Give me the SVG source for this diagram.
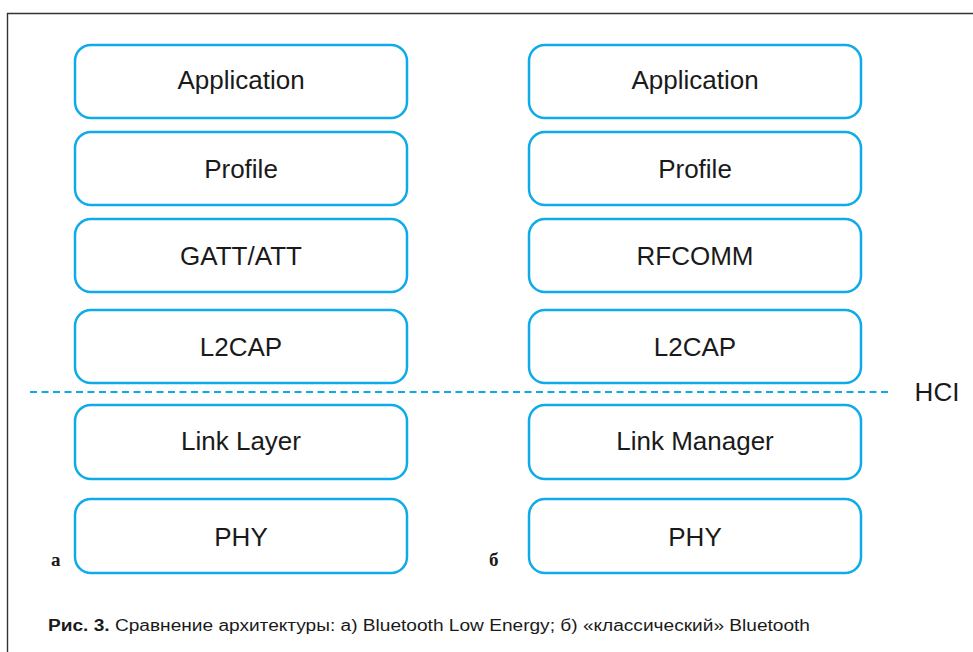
<svg xmlns="http://www.w3.org/2000/svg" width="973" height="652" viewBox="0 0 973 652">
<style>
.box{fill:#fff;stroke:#0dabea;stroke-width:2.5}
.lbl{font-family:"Liberation Sans",Arial,sans-serif;font-size:26px;fill:#1a1a1a;text-anchor:middle}
.tag{font-family:"Liberation Serif","Times New Roman",serif;font-size:19px;font-weight:bold;fill:#1a1a1a}
.cap{font-family:"Liberation Sans",Arial,sans-serif;font-size:16px;fill:#1a1a1a}
</style>
<rect width="973" height="652" fill="#fff"/>
<path d="M7.5 660 V13.5 H980" fill="none" stroke="#333" stroke-width="1.4"/>
<g id="connectors">
<line x1="30" y1="392" x2="890" y2="392" stroke="#0dabea" stroke-width="1.8" stroke-dasharray="7,4.5"/>
</g>
<g id="l-app"><rect class="box" x="75" y="45" width="332" height="73" rx="16"/><text class="lbl" x="241" y="89">Application</text></g>
<g id="l-profile"><rect class="box" x="75" y="132" width="332" height="73" rx="16"/><text class="lbl" x="241" y="178">Profile</text></g>
<g id="l-gatt"><rect class="box" x="75" y="219" width="332" height="73" rx="16"/><text class="lbl" x="241" y="265">GATT/ATT</text></g>
<g id="l-l2cap"><rect class="box" x="75" y="310" width="332" height="73" rx="16"/><text class="lbl" x="241" y="356">L2CAP</text></g>
<g id="l-link"><rect class="box" x="75" y="405" width="332" height="74" rx="16"/><text class="lbl" x="241" y="450">Link Layer</text></g>
<g id="l-phy"><rect class="box" x="75" y="499" width="332" height="74" rx="16"/><text class="lbl" x="241" y="546">PHY</text></g>
<g id="r-app"><rect class="box" x="529" y="45" width="332" height="73" rx="16"/><text class="lbl" x="695" y="89">Application</text></g>
<g id="r-profile"><rect class="box" x="529" y="132" width="332" height="73" rx="16"/><text class="lbl" x="695" y="178">Profile</text></g>
<g id="r-rfcomm"><rect class="box" x="529" y="219" width="332" height="73" rx="16"/><text class="lbl" x="695" y="265">RFCOMM</text></g>
<g id="r-l2cap"><rect class="box" x="529" y="310" width="332" height="73" rx="16"/><text class="lbl" x="695" y="356">L2CAP</text></g>
<g id="r-link"><rect class="box" x="529" y="405" width="332" height="74" rx="16"/><text class="lbl" x="695" y="450">Link Manager</text></g>
<g id="r-phy"><rect class="box" x="529" y="499" width="332" height="74" rx="16"/><text class="lbl" x="695" y="546">PHY</text></g>
<text class="lbl" x="937" y="401">HCI</text>
<text class="tag" x="51" y="566">a</text>
<text class="tag" x="489" y="566">б</text>
<text class="cap" x="48" y="631" textLength="762" lengthAdjust="spacingAndGlyphs"><tspan font-weight="bold">Рис. 3.</tspan> Сравнение архитектуры: а) Bluetooth Low Energy; б) «классический» Bluetooth</text>
</svg>
